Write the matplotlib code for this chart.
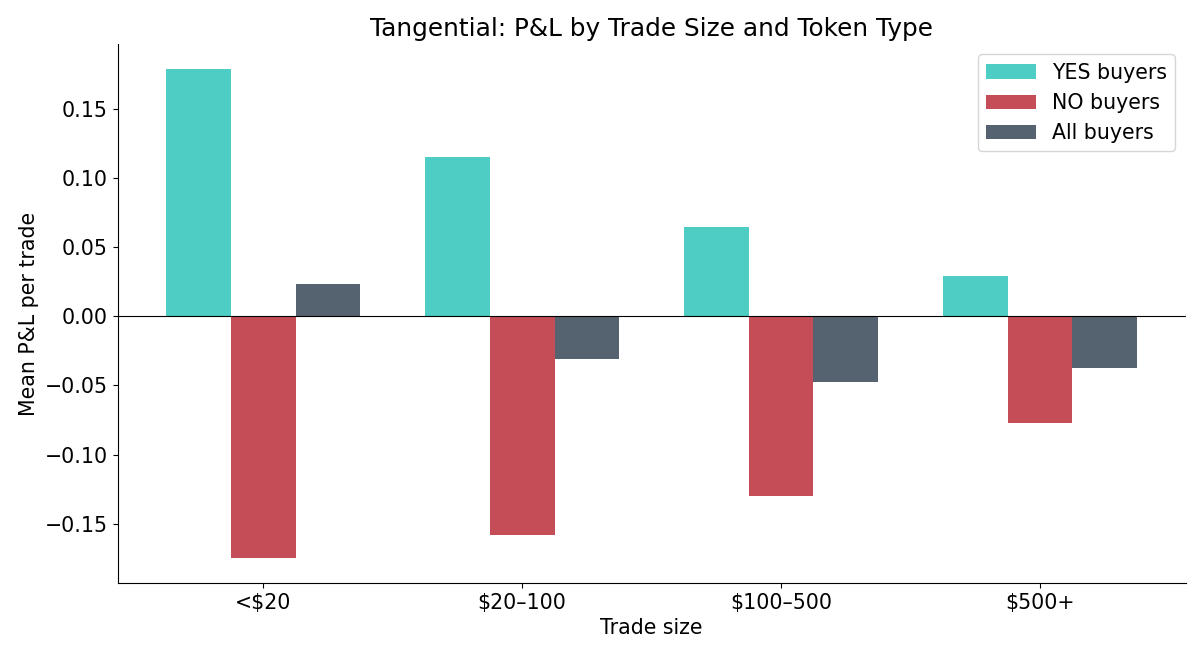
import numpy as np
import matplotlib
matplotlib.use("Agg")
import matplotlib.pyplot as plt

sizes = ["<$20", "$20–100", "$100–500", "$500+"]
yes_pnl = [0.179, 0.115, 0.0645, 0.029]
no_pnl = [-0.175, -0.158, -0.130, -0.0775]
all_pnl = [0.0232, -0.031, -0.0478, -0.0377]

fig, ax = plt.subplots(figsize=(12, 6.6), dpi=100)

x = np.arange(len(sizes))
w = 0.25
ax.bar(x - w, yes_pnl, w, color="#4ECDC4", label="YES buyers")
ax.bar(x, no_pnl, w, color="#C44D58", label="NO buyers")
ax.bar(x + w, all_pnl, w, color="#556270", label="All buyers")

ax.axhline(0, color="black", linewidth=0.8)
ax.set_xticks(x)
ax.set_xticklabels(sizes, fontsize=14.8)
ax.tick_params(axis="y", labelsize=14.8)
ax.set_xlabel("Trade size", fontsize=14.8)
ax.set_ylabel("Mean P&L per trade", fontsize=14.8)
ax.set_title("Tangential: P&L by Trade Size and Token Type", fontsize=17.8)
ax.legend(fontsize=14.8, loc="upper right", handlelength=2.4)
ax.spines["top"].set_visible(False)
ax.spines["right"].set_visible(False)

plt.subplots_adjust(left=0.098, right=0.988, top=0.933, bottom=0.117)
plt.savefig("out.png")
